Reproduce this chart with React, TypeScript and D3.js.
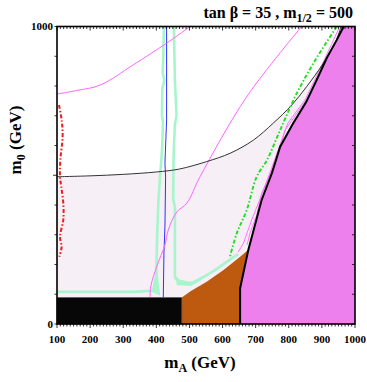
import React from 'react';
import * as d3 from 'd3';

type P = [number, number];

const W = 367, H = 382;
const X0 = 57, X1 = 355, YB = 324, YT = 26.5;

const xTickLabels = [100, 200, 300, 400, 500, 600, 700, 800, 900, 1000];
const yTickLabels = [0, 1000];

const darkCurve: P[] = [
  [100, 495], [200, 498], [300, 503], [400, 511], [470, 521], [552, 546], [623, 574], [693, 618],
  [753, 675], [809, 736], [854, 798], [904, 876], [940, 945], [958, 1000],
];
const boundary: P[] = [
  [653, 0], [653, 120], [678, 250], [718, 417], [749, 507], [774, 596], [812, 672],
  [852, 745], [882, 815], [915, 895], [945, 955], [966, 1000],
];
const blackBox: P[] = [[100, 0], [100, 89], [477, 89], [477, 0]];
const brownTop: P[] = [
  [477, 89], [502, 109], [552, 142], [602, 181], [653, 226], [678, 250],
];
const greenLeft: P[] = [
  [423, 1000], [421, 900], [419, 845], [424, 820], [418, 790], [417, 700], [420, 680],
  [418, 600], [414, 534], [411, 497], [406, 406], [402, 282], [399, 125], [390, 112], [330, 108], [100, 108],
];
const greenLeftFlare: P[] = [[402, 190], [412, 95], [385, 108]];
const greenRight: P[] = [
  [453, 1000], [456, 820], [461, 702], [456, 669], [452, 560], [451, 417], [456, 394],
  [456, 159], [465, 142], [502, 134], [542, 158], [577, 181], [617, 212], [647, 235],
];
const greenRightFlare: P[] = [[456, 165], [462, 130], [505, 128], [540, 150], [500, 142], [470, 150]];
const blueLine: P[] = [
  [431, 1000], [431, 686], [426, 541], [428, 494], [426, 326], [423, 239], [421, 89],
];
const magentaTop: P[] = [
  [100, 773], [160, 785], [230, 803], [330, 871], [431, 944], [502, 1000],
];
const magentaMid: P[] = [
  [839, 1000], [673, 764], [532, 495], [492, 406], [462, 377], [436, 316],
  [426, 266], [401, 193], [383, 125], [381, 89],
];
const magentaNearA: P[] = [
  [952, 995], [900, 871], [849, 753], [797, 675], [768, 585], [728, 462], [688, 350], [663, 271], [647, 242],
];
const magentaNearB: P[] = [
  [958, 988], [909, 861], [864, 770], [789, 652], [764, 551], [738, 490], [718, 439],
  [703, 366], [683, 305], [674, 266],
];
const greenDash: P[] = [
  [945, 1000], [874, 876], [819, 764], [774, 652], [734, 551], [703, 495], [673, 383], [643, 305], [621, 221],
];
const redDash: P[] = [
  [106, 736], [114, 686], [117, 630], [110, 551], [109, 495], [113, 461], [119, 406],
  [119, 350], [109, 293], [114, 260], [107, 226],
];

const x = d3.scaleLinear().domain([100, 1000]).range([X0, X1]);
const y = d3.scaleLinear().domain([0, 1000]).range([YB, YT]);

const line = d3.line<P>().x(d => x(d[0])).y(d => y(d[1]));
const smooth = d3.line<P>().x(d => x(d[0])).y(d => y(d[1])).curve(d3.curveCatmullRom);
const poly = (pts: P[]) => line(pts) + 'Z';

export default function App() {
  const lightPoly: P[] = [...darkCurve, ...boundary.slice().reverse(), [100, 0]];
  const magentaPoly: P[] = [...boundary, [1000, 1000], [1000, 0]];
  const brownPoly: P[] = [[477, 0], ...brownTop, [653, 120], [653, 0]];
  const minor = d3.range(100, 1001, 10);
  const yMinor = d3.range(0, 1001, 100);
  const font = '"Liberation Serif", "Times New Roman", serif';
  return (
    <svg width={W} height={H} style={{ position: 'absolute', left: 0, top: 0, background: '#fff' }}>
      <path d={poly(lightPoly)} fill="#f6eff6" />
      <path d={poly(greenLeftFlare)} fill="#a8f5cc" />
      <path d={poly(greenRightFlare)} fill="#a8f5cc" />
      <path d={line(greenLeft)!} fill="none" stroke="#a8f5cc" strokeWidth={2.6} />
      <path d={line(greenRight)!} fill="none" stroke="#a8f5cc" strokeWidth={2.6} />
      <path d={line(blueLine)!} fill="none" stroke="#3030ff" strokeWidth={1} />
      <path d={smooth(magentaTop)!} fill="none" stroke="#ff66ff" strokeWidth={1} />
      <path d={smooth(magentaMid)!} fill="none" stroke="#ff66ff" strokeWidth={1} />
      <path d={line(magentaNearA)!} fill="none" stroke="#ff66ff" strokeWidth={0.9} />
      <path d={line(magentaNearB)!} fill="none" stroke="#ff66ff" strokeWidth={0.9} />
      <path d={smooth(darkCurve)!} fill="none" stroke="#333" strokeWidth={1} />
      <path d={smooth(greenDash)!} fill="none" stroke="#22dd22" strokeWidth={1.9} strokeDasharray="4,2,1.5,2" />
      <path d={smooth(redDash)!} fill="none" stroke="#ee1c1c" strokeWidth={2} strokeDasharray="4,2,1.5,2" />
      <path d={poly(magentaPoly)} fill="#ee80ee" />
      <path d={poly(brownPoly)} fill="#bd5a10" />
      <path d={poly(blackBox)} fill="#070707" stroke="#555" strokeWidth={0.6} />
      <path d={line(boundary)!} fill="none" stroke="#000" strokeWidth={2} />
      <rect x={X0} y={YT} width={X1 - X0} height={YB - YT} fill="none" stroke="#000" strokeWidth={1.6} />
      {minor.map(v => {
        const big = v % 100 === 0;
        return (
          <g key={'t' + v}>
            <line x1={x(v)} x2={x(v)} y1={YB} y2={YB + (big ? 4 : 2.5)} stroke="#000" strokeWidth={0.8} />
            <line x1={x(v)} x2={x(v)} y1={YT} y2={YT + (big ? 4 : 2.5)} stroke="#000" strokeWidth={0.8} />
          </g>
        );
      })}
      {yMinor.map(v => (
        <g key={'y' + v}>
          <line x1={X0} x2={X0 - (v === 500 ? 4 : 2.5)} y1={y(v)} y2={y(v)} stroke="#000" strokeWidth={0.8} />
          <line x1={X1} x2={X1 - 3} y1={y(v)} y2={y(v)} stroke="#000" strokeWidth={0.8} />
        </g>
      ))}
      {xTickLabels.map(v => (
        <text key={'xl' + v} x={x(v)} y={343} textAnchor="middle" style={{ fontFamily: font, fontWeight: 'bold', fontSize: '11px' }}>{v}</text>
      ))}
      {yTickLabels.map(v => (
        <text key={'yl' + v} x={X0 - 4} y={y(v) + 3.5} textAnchor="end" style={{ fontFamily: font, fontWeight: 'bold', fontSize: '11px' }}>{v}</text>
      ))}
      <text x={353} y={18} textAnchor="end" style={{ fontFamily: font, fontWeight: 'bold', fontSize: '16px' }}>
        tan β = 35 , m<tspan style={{ fontSize: '12px' }} dy={4}>1/2</tspan><tspan dy={-4}> = 500</tspan>
      </text>
      <text x={200} y={368} textAnchor="middle" style={{ fontFamily: font, fontWeight: 'bold', fontSize: '17px' }}>
        m<tspan style={{ fontSize: '12px' }} dy={4}>A</tspan><tspan dy={-4}> (GeV)</tspan>
      </text>
      <text transform="translate(21,140) rotate(-90)" textAnchor="middle" style={{ fontFamily: font, fontWeight: 'bold', fontSize: '17px' }}>
        m<tspan style={{ fontSize: '12px' }} dy={4}>0</tspan><tspan dy={-4}> (GeV)</tspan>
      </text>
    </svg>
  );
}
